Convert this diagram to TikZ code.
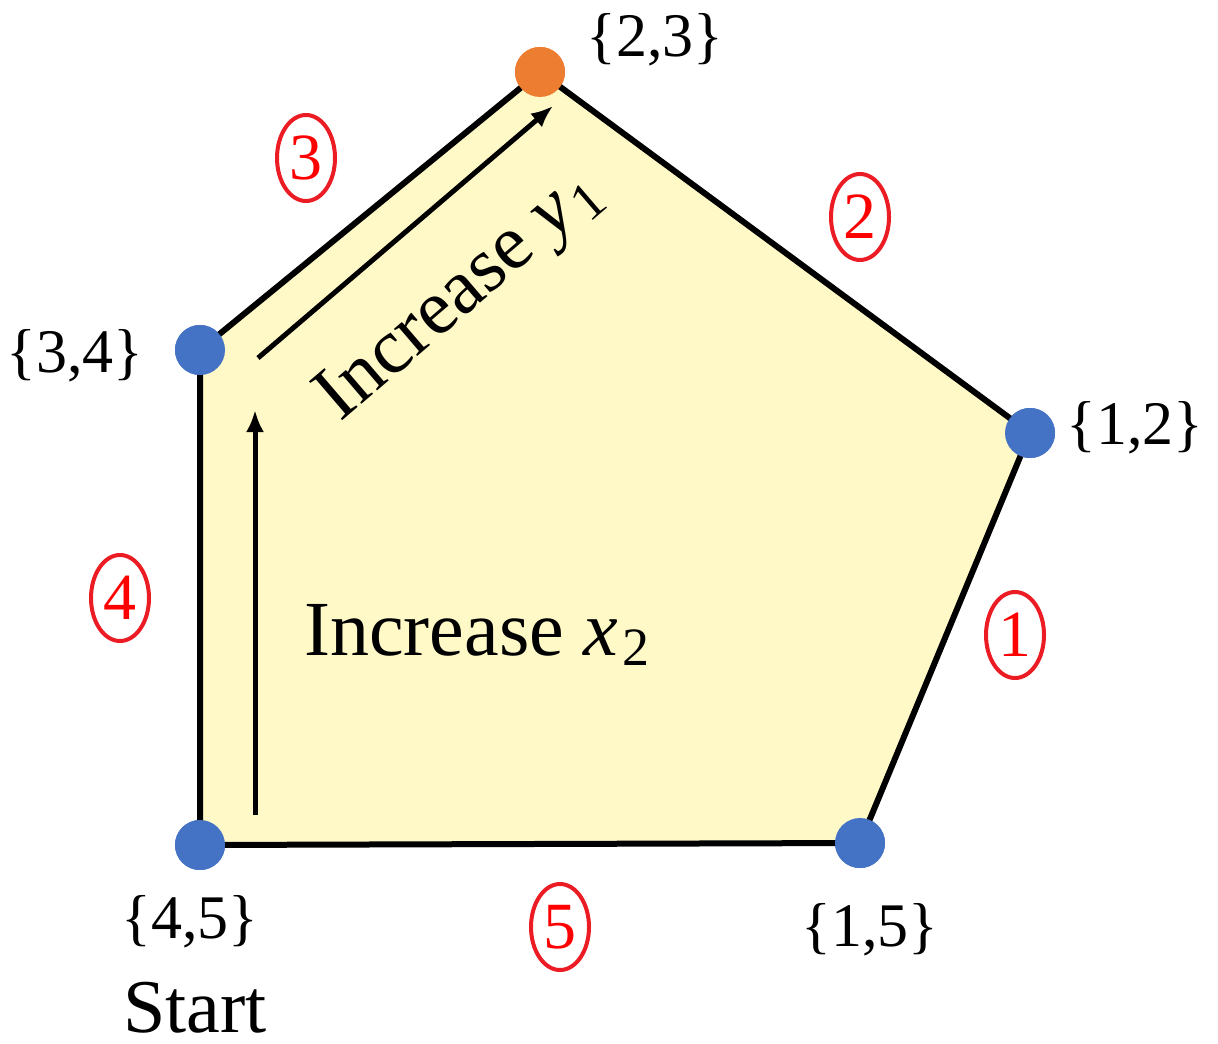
\documentclass[tikz,border=0pt]{standalone}
\usepackage{fontspec}
\setmainfont{Liberation Serif}
\newfontfamily\labelfont{Liberation Serif}
\usetikzlibrary{shapes.geometric,arrows.meta,positioning,calc}

\definecolor{regionfill}{RGB}{255,249,200}
\definecolor{dotblue}{RGB}{68,114,196}
\definecolor{dotorange}{RGB}{237,125,49}
\definecolor{edgered}{RGB}{235,28,36}

\newcommand{\varsub}[2]{\textit{#1}\kern0.06em\raisebox{-0.3ex}{\fontsize{27}{30}\selectfont #2}}

\begin{document}
\begin{tikzpicture}[x=0.5pt, y=-0.5pt,
      vertex/.style={circle, fill=dotblue, minimum size=25pt, inner sep=0pt},
      basis/.style={font=\labelfont\fontsize{31}{36}\selectfont, inner sep=0pt},
      edgenum/.style={ellipse, draw=edgered, line width=2pt, text=red, inner sep=0pt,
        minimum width=29pt, minimum height=43pt, font=\labelfont\fontsize{33}{38}\selectfont},
      move/.style={-{Latex[length=11pt, width=9pt]}, line width=2.5pt},
      movetext/.style={font=\labelfont\fontsize{39}{44}\selectfont, inner sep=0pt}
    ]
      \useasboundingbox (0,0) rectangle (1218,1043);

      % Vertices
      \node[vertex] (v45) at (200,845) {};
      \node[vertex] (v15) at (860,843) {};
      \node[vertex] (v12) at (1030,433) {};
      \node[vertex, fill=dotorange] (v23) at (540,72) {};
      \node[vertex] (v34) at (200,350) {};

      % Feasible region
      \draw[fill=regionfill, line width=3pt, line join=miter]
        (v45.center) -- (v15.center) -- (v12.center) -- (v23.center) -- (v34.center) -- cycle;
      \foreach \v in {v45,v15,v12,v34} \node[vertex] at (\v) {};
      \node[vertex, fill=dotorange] at (v23) {};

      % Bases
      \node[basis] (b45) at (190,922) {\{4,5\}};
      \node[basis, font=\labelfont\fontsize{38}{44}\selectfont] (start) at (195,1008) {Start};
      \node[basis] (b15) at (870,930) {\{1,5\}};
      \node[basis] (b12) at (1135,428) {\{1,2\}};
      \node[basis] (b34) at (75,356) {\{3,4\}};
      \node[basis] (b23) at (655,40) {\{2,3\}};

      % Edge numbers
      \node[edgenum] (e1) at (1015,635) {1};
      \node[edgenum] (e2) at (860,217) {2};
      \node[edgenum] (e3) at (306,158) {3};
      \node[edgenum] (e4) at (120,598) {4};
      \node[edgenum] (e5) at (560,927) {5};

      % Pivot steps
      \coordinate (xfrom) at (255,815);
      \coordinate (xto) at (255,410);
      \coordinate (yfrom) at (258,358);
      \coordinate (yto) at (553,106);
      \draw[move] (xfrom) -- (xto);
      \draw[move] (yfrom) -- (yto);
      \node[movetext] (incx) at (477,635) {Increase \varsub{x}{2}};
      \node[movetext, rotate=40.6] (incy) at (461,297) {Increase \varsub{y}{1}};
    \end{tikzpicture}
\end{document}
